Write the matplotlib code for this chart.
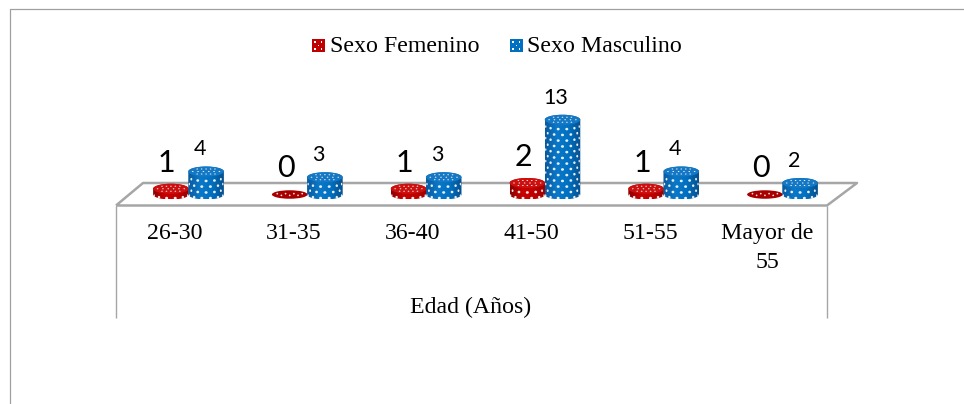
import matplotlib
matplotlib.use('Agg')
import matplotlib.pyplot as plt
import numpy as np
from matplotlib.colors import LinearSegmentedColormap
from matplotlib.lines import Line2D
from matplotlib.patches import Ellipse, PathPatch, Rectangle
from matplotlib.path import Path

# datos
categorias = ['26-30', '31-35', '36-40', '41-50', '51-55', 'Mayor de\n55']
femenino = [1, 0, 1, 2, 1, 0]
masculino = [4, 3, 3, 13, 4, 2]
series = ['Sexo Femenino', 'Sexo Masculino']
eje_titulo = 'Edad (Años)'

W, H = 964, 404
SERIF = 'Liberation Serif'
GRIS = '#a6a6a6'

fig = plt.figure(figsize=(W / 100, H / 100), dpi=100, facecolor='white')
ax = fig.add_axes([0, 0, 1, 1])

# escala: un grupo = 118.8 px, una unidad = 5.75 px
PX_X, PX_Y = 118.8, 5.75
X0, Y0 = 188.5, 194.5
ax.set_xlim(-X0 / PX_X, (W - X0) / PX_X)
ax.set_ylim(-(H - Y0) / PX_Y, Y0 / PX_Y)
ax.axis('off')


def px(x, y):
    # pixeles de la imagen -> coordenadas de figura
    return x / W, 1 - y / H


def linea(xs, ys, lw=1.6, color=GRIS):
    pts = [px(a, b) for a, b in zip(xs, ys)]
    # zorder negativo para que quede detras de los cilindros
    fig.add_artist(Line2D([p[0] for p in pts], [p[1] for p in pts], color=color, lw=lw,
                          solid_capstyle='butt', zorder=-1))


# marco exterior
linea([9.5, 9.5, 964], [404, 8.5, 8.5], lw=0.9, color='#a0a0a0')

# piso y paredes del eje
linea([116, 143, 857, 827, 116], [205.5, 183, 183, 205.5, 205.5], lw=1.8)
linea([116, 116], [205.5, 318], lw=1.0)
linea([827, 827], [205.5, 318], lw=1.0)

RAD_X = 17.8 / PX_X
RAD_Y = 5.0 / PX_Y
SEP = 0.148
cmap_rojo = LinearSegmentedColormap.from_list('r', ['#8c0000', '#c80000', '#c00000', '#9a0000'])
cmap_azul = LinearSegmentedColormap.from_list('a', ['#0a5a9e', '#0a78c8', '#0070c0', '#07508e'])


def punto(x, y, ancho, alto, z):
    ax.add_patch(Ellipse((x, y), ancho, alto, fc='white', ec='none', alpha=0.9, zorder=z))


def cilindro(xc, valor, cmap, tapa, z):
    if valor == 0:
        # valor cero: solo un disco plano
        ax.add_patch(Ellipse((xc, 0), 2 * RAD_X, 1.7 * RAD_Y, fc='#a80000', ec='none', zorder=z))
        for i, dx in enumerate(np.linspace(-0.7, 0.7, 7)):
            punto(xc + dx * RAD_X, 0.15 * (-1) ** i, 1.7 / PX_X, 1.7 / PX_Y, z + 0.1)
        return
    t = np.linspace(0, np.pi, 40)
    arriba = np.c_[xc + RAD_X * np.cos(t), valor + RAD_Y * np.sin(t)]
    abajo = np.c_[xc - RAD_X * np.cos(t), -RAD_Y * np.sin(t)]
    cuerpo = Path(np.r_[arriba, abajo, [[xc + RAD_X, valor]]])
    grad = np.linspace(0, 1, 64).reshape(1, -1)
    im = ax.imshow(grad, cmap=cmap, extent=(xc - RAD_X, xc + RAD_X, -RAD_Y, valor + RAD_Y),
                   aspect='auto', zorder=z, interpolation='bilinear')
    im.set_clip_path(PathPatch(cuerpo, transform=ax.transData))

    # lunares de la cara lateral, en filas alternadas
    angulos = np.deg2rad(np.arange(-70, 71, 28))
    n = 0
    y = 0.05
    while y < valor - 0.1:
        desfase = np.deg2rad(14) if n % 2 else 0
        for a in angulos:
            b = a + desfase
            if abs(b) > np.deg2rad(80):
                continue
            yy = y - RAD_Y * 0.8 * np.cos(b)
            punto(xc + RAD_X * np.sin(b), yy, 2.6 * np.cos(b) / PX_X + 0.004, 2.6 / PX_Y, z + 0.1)
        y += 1.0
        n += 1

    # tapa superior
    ax.add_patch(Ellipse((xc, valor), 2 * RAD_X, 2 * RAD_Y, fc=tapa, ec='none', zorder=z + 0.2))
    for i, dy in enumerate([-0.5, 0, 0.5]):
        for dx in np.linspace(-0.75, 0.75, 7 - i % 2):
            if dx ** 2 + dy ** 2 < 0.8:
                punto(xc + dx * RAD_X, valor + dy * RAD_Y, 1.6 / PX_X, 1.1 / PX_Y, z + 0.3)


for i, (f, m) in enumerate(zip(femenino, masculino)):
    cilindro(i - SEP, f, cmap_rojo, '#cc1010', 3)
    cilindro(i + SEP, m, cmap_azul, '#1478c4', 4)
    # etiquetas de datos
    ax.annotate(str(f), (i - SEP, f), xytext=(-3, 18.8), textcoords='offset points',
                ha='center', va='center', fontsize=22, family='Lato', color='black', zorder=6)
    ax.annotate(str(m), (i + SEP, m), xytext=(-4.5, 16), textcoords='offset points',
                ha='center', va='center', fontsize=15.5, family='Lato', color='black', zorder=6)

ax.set_xlim(-X0 / PX_X, (W - X0) / PX_X)
ax.set_ylim(-(H - Y0) / PX_Y, Y0 / PX_Y)

# categorias y titulo del eje
for i, c in enumerate(categorias):
    xt = 175 + 118.8 * i if i < 5 else 767
    fig.text(*px(xt, 234), c.split('\n')[0], ha='center', va='center', family=SERIF, fontsize=17.2)
    if '\n' in c:
        fig.text(*px(xt, 263), c.split('\n')[1], ha='center', va='center', family=SERIF, fontsize=17.2)
fig.text(*px(471, 307), eje_titulo, ha='center', va='center', family=SERIF, fontsize=17.2)

# leyenda
for nombre, color, xc, xt in zip(series, ['#c00000', '#0070c0'], [312, 510], [330, 527]):
    x0, y0 = px(xc, 52)
    fig.add_artist(Rectangle((x0, y0), 13 / W, 13 / H, fc=color, ec='none', transform=fig.transFigure))
    for dx, dy in [(3, 3), (9.5, 3), (6.3, 6.5), (3, 10), (9.5, 10)]:
        fig.add_artist(Rectangle(px(xc + dx - 0.8, 39 + dy + 0.8), 1.6 / W, 1.6 / H, fc='white', ec='none',
                                 transform=fig.transFigure))
    fig.text(*px(xt, 47), nombre, ha='left', va='center', family=SERIF, fontsize=17.2)

fig.savefig('out.png', dpi=100)
